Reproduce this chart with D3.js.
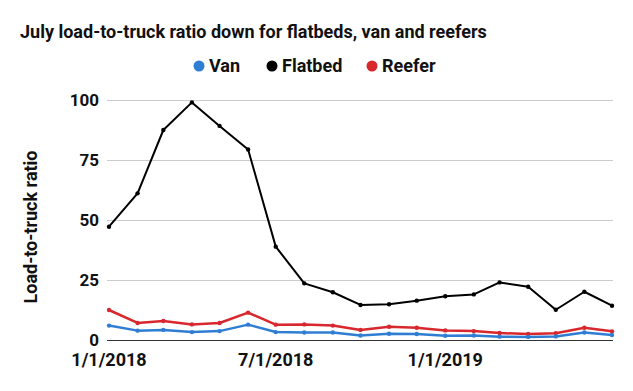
<!DOCTYPE html>
<html>
<head>
<meta charset="utf-8">
<script src="https://cdn.jsdelivr.net/npm/d3@7"></script>
<style>
  body { margin: 0; background: #fff; }
  text { font-family: Roboto, "Noto Sans", sans-serif; font-weight: 700; fill: #111; }
</style>
</head>
<body>
<svg id="chart" width="633" height="391"></svg>
<script>
// monthly dates, Jan 2018 - Jul 2019
var months = ["2018-01-01","2018-02-01","2018-03-01","2018-04-01","2018-05-01","2018-06-01",
  "2018-07-01","2018-08-01","2018-09-01","2018-10-01","2018-11-01","2018-12-01",
  "2019-01-01","2019-02-01","2019-03-01","2019-04-01","2019-05-01","2019-06-01","2019-07-01"];

var van = [6.0, 3.9, 4.2, 3.3, 3.7, 6.4, 3.3, 3.1, 3.1, 1.9, 2.6, 2.5, 1.8, 1.9, 1.4, 1.3, 1.5, 3.1, 2.1];
var flatbed = [47.2, 61.1, 87.5, 99.0, 89.2, 79.4, 38.9, 23.6, 19.9, 14.6, 14.9, 16.4, 18.2, 19.0, 24.0, 22.2, 12.6, 20.1, 14.3];
var reefer = [12.5, 7.1, 7.9, 6.5, 7.1, 11.4, 6.4, 6.5, 6.0, 4.2, 5.5, 5.1, 4.0, 3.7, 2.9, 2.5, 2.8, 5.1, 3.6];

var yTicks = [0, 25, 50, 75, 100];
var xTicks = ["2018-01-01", "2018-07-01", "2019-01-01"];

var seriesNames = ["Van", "Flatbed", "Reefer"];
var seriesColors = ["#2f7ed4", "#000000", "#d8282e"];

var parse = d3.timeParse("%Y-%m-%d");
var fmt = d3.timeFormat("%-m/%-d/%Y");
var dates = months.map(parse);

var svg = d3.select("#chart");

var x = d3.scaleTime()
  .domain(d3.extent(dates))
  .range([109, 612]);

var y = d3.scaleLinear()
  .domain([0, 100])
  .range([340, 100]);

// title
svg.append("text")
  .attr("x", 20)
  .attr("y", 38)
  .style("font-size", "18px")
  .text("July load-to-truck ratio down for flatbeds, van and reefers");

// legend (text start positions)
var legendX = [209, 282, 382];
var legend = svg.selectAll(".legend")
  .data(seriesNames)
  .join("g")
  .attr("class", "legend")
  .attr("transform", (d, i) => `translate(${legendX[i]},66)`);

legend.append("circle")
  .attr("cx", -10)
  .attr("r", 5.5)
  .attr("fill", (d, i) => seriesColors[i]);

legend.append("text")
  .attr("dy", "0.36em")
  .style("font-size", "18px")
  .text(d => d);

// gridlines
svg.append("g")
  .selectAll("line")
  .data(yTicks)
  .join("line")
  .attr("x1", 107)
  .attr("x2", 613)
  .attr("y1", d => y(d) + 0.5)
  .attr("y2", d => y(d) + 0.5)
  .attr("stroke", d => d === 0 ? "#333" : "#ccc")
  .attr("stroke-width", 1);

// y tick labels
svg.append("g")
  .selectAll("text")
  .data(yTicks)
  .join("text")
  .attr("x", 99)
  .attr("y", d => y(d))
  .attr("dy", "0.36em")
  .attr("text-anchor", "end")
  .style("font-size", "17px")
  .text(d => d);

// x tick labels
svg.append("g")
  .selectAll("text")
  .data(xTicks.map(parse))
  .join("text")
  .attr("x", d => x(d))
  .attr("y", 366)
  .attr("text-anchor", "middle")
  .style("font-size", "18px")
  .text(d => fmt(d));

// y axis title
svg.append("text")
  .attr("transform", "translate(37,227) rotate(-90)")
  .attr("text-anchor", "middle")
  .style("font-size", "18px")
  .text("Load-to-truck ratio");

// lines
var line = d3.line()
  .x((d, i) => x(dates[i]))
  .y(d => y(d));

var allSeries = [van, flatbed, reefer];
var drawOrder = [1, 2, 0];

drawOrder.forEach(function (k) {
  var g = svg.append("g");
  g.append("path")
    .datum(allSeries[k])
    .attr("fill", "none")
    .attr("stroke", seriesColors[k])
    .attr("stroke-width", k === 1 ? 2 : 2.5)
    .attr("stroke-linejoin", "round")
    .attr("d", line);
  g.selectAll("circle")
    .data(allSeries[k])
    .join("circle")
    .attr("cx", (d, i) => x(dates[i]))
    .attr("cy", d => y(d))
    .attr("r", 2.2)
    .attr("fill", seriesColors[k]);
});
</script>
</body>
</html>
